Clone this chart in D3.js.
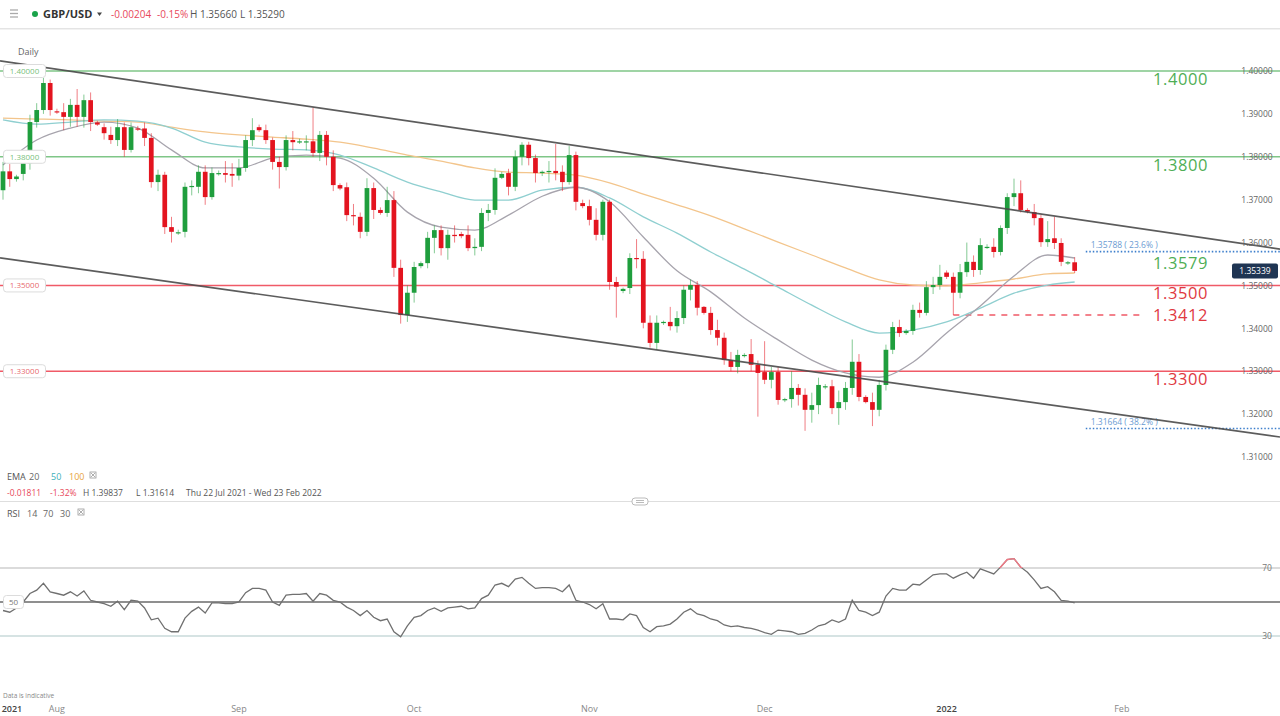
<!DOCTYPE html>
<html><head><meta charset="utf-8">
<script src="https://cdn.jsdelivr.net/npm/d3@7"></script>
<style>
html,body{margin:0;padding:0;background:#fff;}
svg{display:block;font-family:"Open Sans","Noto Sans",sans-serif;}
</style></head>
<body><svg id="c" width="1280" height="716"></svg>
<script>
// ---------- DATA ----------
const startDate = "2021-07-22";
const totalSlots = 190; // trading slots (Sun-Fri) shown on the time axis
const opens = [1.3722,1.3766,1.3748,1.3760,1.3785,1.3881,1.3909,1.3972,1.3906,1.3904,
1.3893,1.3921,1.3893,1.3932,1.3880,1.3869,1.3851,1.3839,1.3869,1.3816,
1.3866,1.3866,1.3844,1.3741,1.3758,1.3636,1.3624,1.3625,1.3730,1.3730,
1.3765,1.3706,1.3762,1.3762,1.3760,1.3756,1.3774,1.3839,1.3869,1.3862,
1.3839,1.3788,1.3776,1.3839,1.3836,1.3834,1.3836,1.3809,1.3851,1.3800,
1.3734,1.3729,1.3664,1.3660,1.3625,1.3727,1.3676,1.3669,1.3699,1.3541,
1.3431,1.3483,1.3545,1.3552,1.3611,1.3629,1.3587,1.3618,1.3620,1.3618,
1.3587,1.3590,1.3669,1.3676,1.3751,1.3762,1.3730,1.3800,1.3828,1.3797,
1.3762,1.3765,1.3767,1.3765,1.3741,1.3804,1.3692,1.3685,1.3653,1.3618,
1.3695,1.3508,1.3487,1.3494,1.3564,1.3562,1.3413,1.3366,1.3413,1.3415,
1.3405,1.3424,1.3490,1.3501,1.3450,1.3436,1.3396,1.3378,1.3326,1.3310,
1.3338,1.3340,1.3315,1.3298,1.3280,1.3298,1.3233,1.3235,1.3261,1.3245,
1.3210,1.3221,1.3265,1.3265,1.3214,1.3228,1.3261,1.3322,1.3240,1.3228,
1.3210,1.3268,1.3350,1.3403,1.3389,1.3394,1.3443,1.3436,1.3496,1.3501,
1.3530,1.3520,1.3483,1.3531,1.3555,1.3536,1.3590,1.3590,1.3578,1.3634,
1.3706,1.3715,1.3676,1.3671,1.3657,1.3601,1.3610,1.3599,1.3552,1.3554];
const highs = [1.3788,1.3783,1.3758,1.3800,1.3898,1.3925,1.3984,1.3980,1.3912,1.3925,
1.3935,1.3958,1.3945,1.3950,1.3884,1.3878,1.3870,1.3888,1.3880,1.3880,
1.3872,1.3880,1.3855,1.3770,1.3765,1.3660,1.3630,1.3740,1.3745,1.3780,
1.3780,1.3775,1.3768,1.3790,1.3785,1.3795,1.3850,1.3890,1.3875,1.3875,
1.3845,1.3800,1.3850,1.3860,1.3842,1.3850,1.3914,1.3860,1.3860,1.3815,
1.3738,1.3740,1.3690,1.3670,1.3750,1.3740,1.3682,1.3730,1.3720,1.3560,
1.3500,1.3555,1.3556,1.3625,1.3640,1.3640,1.3630,1.3640,1.3625,1.3640,
1.3610,1.3680,1.3690,1.3773,1.3765,1.3772,1.3815,1.3834,1.3835,1.3805,
1.3768,1.3790,1.3830,1.3780,1.3825,1.3812,1.3700,1.3700,1.3680,1.3700,
1.3700,1.3520,1.3495,1.3575,1.3608,1.3580,1.3430,1.3430,1.3418,1.3450,
1.3440,1.3500,1.3514,1.3510,1.3452,1.3450,1.3420,1.3390,1.3345,1.3350,
1.3342,1.3375,1.3325,1.3370,1.3310,1.3310,1.3238,1.3300,1.3270,1.3260,
1.3250,1.3285,1.3270,1.3280,1.3255,1.3275,1.3374,1.3340,1.3244,1.3250,
1.3280,1.3362,1.3415,1.3420,1.3398,1.3455,1.3460,1.3510,1.3520,1.3548,
1.3535,1.3530,1.3550,1.3600,1.3570,1.3610,1.3596,1.3610,1.3640,1.3715,
1.3749,1.3745,1.3680,1.3690,1.3665,1.3650,1.3660,1.3610,1.3557,1.3566];
const lows = [1.3700,1.3730,1.3742,1.3745,1.3770,1.3868,1.3900,1.3896,1.3900,1.3862,
1.3870,1.3870,1.3868,1.3860,1.3872,1.3840,1.3830,1.3825,1.3800,1.3810,
1.3860,1.3825,1.3728,1.3720,1.3620,1.3600,1.3618,1.3612,1.3710,1.3715,
1.3688,1.3700,1.3756,1.3740,1.3730,1.3745,1.3765,1.3825,1.3858,1.3830,
1.3770,1.3726,1.3768,1.3815,1.3830,1.3815,1.3800,1.3790,1.3780,1.3720,
1.3722,1.3650,1.3640,1.3610,1.3615,1.3655,1.3665,1.3660,1.3520,1.3411,
1.3415,1.3460,1.3540,1.3540,1.3575,1.3570,1.3560,1.3600,1.3610,1.3580,
1.3570,1.3580,1.3650,1.3665,1.3748,1.3710,1.3720,1.3780,1.3780,1.3740,
1.3755,1.3740,1.3745,1.3720,1.3735,1.3675,1.3680,1.3640,1.3605,1.3605,
1.3490,1.3425,1.3482,1.3480,1.3540,1.3400,1.3355,1.3350,1.3408,1.3395,
1.3390,1.3410,1.3465,1.3430,1.3432,1.3385,1.3360,1.3315,1.3300,1.3295,
1.3332,1.3300,1.3194,1.3270,1.3260,1.3222,1.3228,1.3215,1.3220,1.3161,
1.3180,1.3200,1.3258,1.3200,1.3175,1.3210,1.3245,1.3230,1.3225,1.3172,
1.3195,1.3255,1.3340,1.3380,1.3385,1.3385,1.3425,1.3430,1.3480,1.3490,
1.3515,1.3431,1.3470,1.3520,1.3520,1.3525,1.3585,1.3565,1.3570,1.3620,
1.3685,1.3670,1.3668,1.3640,1.3590,1.3590,1.3585,1.3545,1.3548,1.3529];
const closes = [1.3766,1.3748,1.3754,1.3785,1.3881,1.3909,1.3972,1.3909,1.3904,1.3893,
1.3921,1.3893,1.3932,1.3881,1.3875,1.3855,1.3839,1.3869,1.3816,1.3869,
1.3865,1.3844,1.3741,1.3758,1.3636,1.3625,1.3624,1.3730,1.3732,1.3765,
1.3706,1.3762,1.3762,1.3758,1.3756,1.3774,1.3839,1.3862,1.3862,1.3839,
1.3788,1.3776,1.3839,1.3834,1.3836,1.3836,1.3809,1.3851,1.3800,1.3734,
1.3726,1.3664,1.3662,1.3625,1.3727,1.3676,1.3669,1.3699,1.3541,1.3431,
1.3483,1.3543,1.3552,1.3611,1.3629,1.3587,1.3618,1.3615,1.3615,1.3587,
1.3590,1.3669,1.3676,1.3751,1.3760,1.3730,1.3800,1.3828,1.3797,1.3762,
1.3765,1.3767,1.3762,1.3741,1.3804,1.3695,1.3685,1.3653,1.3618,1.3695,
1.3508,1.3497,1.3492,1.3564,1.3562,1.3413,1.3366,1.3413,1.3415,1.3405,
1.3424,1.3490,1.3501,1.3448,1.3436,1.3396,1.3378,1.3326,1.3310,1.3338,
1.3338,1.3315,1.3296,1.3280,1.3298,1.3233,1.3235,1.3261,1.3245,1.3210,
1.3221,1.3268,1.3265,1.3214,1.3228,1.3261,1.3322,1.3240,1.3228,1.3210,
1.3268,1.3350,1.3403,1.3389,1.3394,1.3443,1.3436,1.3496,1.3501,1.3520,
1.3520,1.3483,1.3531,1.3555,1.3536,1.3594,1.3590,1.3578,1.3634,1.3706,
1.3715,1.3676,1.3672,1.3657,1.3601,1.3608,1.3599,1.3555,1.3554,1.3534];

// EMA samples (candle index -> value)
const emaSampleIdx = [0,5,10,15,20,25,30,35,40,45,50,55,60,65,70,75,80,85,90,95,100,105,110,115,120,125,130,135,140,145,150,155,159];
const ema20 = [1.3781,1.3839,1.3867,1.3881,1.3867,1.3816,1.3774,1.3774,1.3797,1.3804,1.3797,1.3750,1.3671,1.3636,1.3629,1.3664,1.3708,1.3729,1.3695,1.3613,1.3534,1.3485,1.3424,1.3373,1.3326,1.3296,1.3286,1.3321,1.3389,1.3452,1.3522,1.3571,1.3564];
const ema50 = [1.3886,1.3876,1.3881,1.3886,1.3883,1.3867,1.3834,1.3823,1.3818,1.3816,1.3804,1.3774,1.3741,1.3718,1.3699,1.3699,1.3722,1.3729,1.3704,1.3660,1.3622,1.3578,1.3538,1.3496,1.3454,1.3415,1.3389,1.3396,1.3415,1.3447,1.3482,1.3501,1.3508];
const ema100 = [1.3890,1.3888,1.3886,1.3883,1.3881,1.3869,1.3858,1.3851,1.3846,1.3841,1.3834,1.3820,1.3804,1.3790,1.3774,1.3764,1.3762,1.3757,1.3739,1.3713,1.3688,1.3662,1.3632,1.3601,1.3571,1.3541,1.3513,1.3501,1.3499,1.3506,1.3515,1.3527,1.3529];

// RSI(14) per candle
const rsi = [45,44,46.5,50,55,57,61,56,55,54,
56,53.5,56.5,51,50,49,47.5,50.5,45.5,51,
50.5,46.5,39.5,40.5,34.5,32.5,32.5,40.5,44.5,47,
43.5,49.5,49.5,49,49,50,55.5,58,58,57,
50,48,54,54.5,54.5,55,50.5,55,54,51,
50,47,45,42,45,41,39,40,32.5,29.5,
36,41,42,45,46.5,44.5,46.5,47,47.5,46,
46.5,52,54,60,61,59,63.5,64.5,61,58,
58.5,58.5,58,56,60,51,50,48.5,46,49,
40,40,39.5,43,42,35,32.5,35.5,36,37,
40,44,46,43,42,40,39,36.5,35.5,36,
35,34.5,33.5,32,31,33.5,33,32.5,31,31.5,
33.5,36,37,39.5,38,40,51,45,44,42,
44,53.5,58,57,57,60.5,60,63,66,66.5,
66.5,64,66,67.5,64,69.5,68,66.5,70.5,75,
75.5,70.5,67.5,63,58,59,56,51,50.5,49.5];

// Horizontal levels
const greenLevels = [1.40, 1.38];
const redLevels = [1.35, 1.33];
const levelLabels = [
  {text:"1.4000", price:1.40, color:"green"},
  {text:"1.3800", price:1.38, color:"green"},
  {text:"1.3579", price:1.35788, color:"green"},
  {text:"1.3500", price:1.35, color:"red"},
  {text:"1.3412", price:1.3431, color:"red", onLine:true},
  {text:"1.3300", price:1.33, color:"red"}
];
const fibLevels = [{price:1.35788, text:"1.35788 ( 23.6% )", from:"2022-01-26"},
                   {price:1.31664, text:"1.31664 ( 38.2% )", from:"2022-01-26"}];
const dashedLevel = {price:1.3431, from:"2022-01-03", to:"2022-02-04"};
const channelUpper = [["2021-07-22",1.40224],["2022-01-24",1.36550]];
const channelLower = [["2021-07-22",1.35631],["2022-01-24",1.32136]];
const priceTicks = [1.31,1.32,1.33,1.34,1.35,1.36,1.37,1.38,1.39,1.40];
const lastPrice = 1.35339;
const timeTicks = [["2021","2021-07-22"],["Aug","2021-08-01"],["Sep","2021-09-01"],["Oct","2021-10-01"],["Nov","2021-11-01"],["Dec","2021-12-01"],["2022","2022-01-02"],["Feb","2022-02-01"]];

// ---------- BUILD DATES (Sun-Fri slots) ----------
const dates = [];
{ let d = new Date(startDate+"T00:00:00Z");
  while (dates.length < totalSlots) {
    if (d.getUTCDay() !== 6) dates.push(d.toISOString().slice(0,10));
    d = new Date(d.getTime()+86400000);
  } }
const candles = opens.map((o,i)=>({date:dates[i], o, h:highs[i], l:lows[i], c:closes[i]}));

// ---------- SCALES ----------
const svg = d3.select("#c");
const step = 6.74, x0 = 3 - step/2;
const x = d3.scaleBand().domain(dates).range([x0, x0 + step*dates.length]).paddingInner(0.3).paddingOuter(0.15);
const cx = d => x(d) + x.bandwidth()/2;
const y = d3.scaleLinear().domain([1.31,1.40]).range([457,71]);
const yr = d3.scaleLinear().domain([30,70]).range([636,568]);

const GREEN_LINE="#7fc687", GREEN_TXT="#4fae55", RED_LINE="#f05a67", RED_TXT="#e0393f";
const UP="#1f9e3d", DOWN="#e3141f";

// ---------- HEADER ----------
const hdr = svg.append("g");
hdr.append("rect").attr("x",0).attr("y",0).attr("width",1280).attr("height",28).attr("fill","#fff");
hdr.append("line").attr("x1",0).attr("x2",1280).attr("y1",28.5).attr("y2",28.5).attr("stroke","#e4e4e4");
hdr.append("line").attr("x1",0).attr("x2",1280).attr("y1",29.5).attr("y2",29.5).attr("stroke","#f2f2f2");
[10,13.5,17].forEach(yy=>hdr.append("line").attr("x1",10).attr("x2",18).attr("y1",yy).attr("y2",yy).attr("stroke","#aaa").attr("stroke-width",1.3));
hdr.append("circle").attr("cx",35).attr("cy",14).attr("r",3).attr("fill","#1aa34a");
hdr.append("text").attr("x",43).attr("y",18).attr("font-size",11).attr("font-weight",700).attr("fill","#333").text("GBP/USD");
hdr.append("path").attr("d","M97,12.5 L102,12.5 L99.5,16 Z").attr("fill","#444");
hdr.append("text").attr("x",111).attr("y",18).attr("font-size",10).attr("fill","#e8475a").text("-0.00204");
hdr.append("text").attr("x",157).attr("y",18).attr("font-size",10).attr("fill","#e8475a").text("-0.15%");
hdr.append("text").attr("x",190).attr("y",18).attr("font-size",10).attr("fill","#555").text("H 1.35660");
hdr.append("text").attr("x",240).attr("y",18).attr("font-size",10).attr("fill","#555").text("L 1.35290");
svg.append("text").attr("x",18).attr("y",55).attr("font-size",9).attr("fill","#666").text("Daily");

// ---------- PRICE PANEL ----------
const main = svg.append("g");
greenLevels.forEach(p=>main.append("line").attr("x1",0).attr("x2",1280).attr("y1",y(p)).attr("y2",y(p)).attr("stroke",GREEN_LINE).attr("stroke-width",1.6));
redLevels.forEach(p=>main.append("line").attr("x1",0).attr("x2",1280).attr("y1",y(p)).attr("y2",y(p)).attr("stroke",RED_LINE).attr("stroke-width",1.6));
fibLevels.forEach(f=>{
  main.append("line").attr("x1",x(f.from)).attr("x2",1280).attr("y1",y(f.price)).attr("y2",y(f.price))
    .attr("stroke","#3d7fcc").attr("stroke-width",1.6).attr("stroke-dasharray","1.5,2");
  main.append("text").attr("x",x(f.from)+5).attr("y",y(f.price)-4).attr("font-size",8.5).attr("fill","#6b9bd2").text(f.text);
});
main.append("line").attr("x1",cx(dashedLevel.from)).attr("x2",cx(dashedLevel.to)).attr("y1",y(dashedLevel.price)).attr("y2",y(dashedLevel.price))
  .attr("stroke",RED_LINE).attr("stroke-width",1.6).attr("stroke-dasharray","6,6");

// EMAs
const emaLine = d3.line().x(d=>cx(dates[d[0]])).y(d=>y(d[1])).curve(d3.curveMonotoneX);
[[ema100,"#f3c58c"],[ema50,"#8fcfd0"],[ema20,"#a7a4ad"]].forEach(([arr,col])=>{
  main.append("path").attr("d",emaLine(emaSampleIdx.map((k,i)=>[k,arr[i]]))).attr("fill","none").attr("stroke",col).attr("stroke-width",1.3);
});

// candles
const cg = main.append("g");
cg.selectAll("line.w").data(candles).join("line")
  .attr("x1",d=>cx(d.date)).attr("x2",d=>cx(d.date)).attr("y1",d=>y(d.h)).attr("y2",d=>y(d.l))
  .attr("stroke",d=>d.c>=d.o?UP:DOWN).attr("stroke-opacity",0.55).attr("stroke-width",1);
cg.selectAll("rect.b").data(candles).join("rect")
  .attr("x",d=>x(d.date)).attr("width",x.bandwidth())
  .attr("y",d=>y(Math.max(d.o,d.c))).attr("height",d=>Math.max(1.2,Math.abs(y(d.o)-y(d.c))))
  .attr("fill",d=>d.c>=d.o?UP:DOWN);

// channel lines (extended to panel edges)
function channel(pts){
  const [a,b]=pts; const xa=cx(a[0]), ya=y(a[1]), xb=cx(b[0]), yb=y(b[1]);
  const k=(yb-ya)/(xb-xa);
  main.append("line").attr("x1",0).attr("y1",ya+(0-xa)*k).attr("x2",1280).attr("y2",ya+(1280-xa)*k)
    .attr("stroke","#4a4a4a").attr("stroke-width",1.7).attr("stroke-opacity",0.9);
}
channel(channelUpper); channel(channelLower);

// left level boxes
[[1.40,GREEN_TXT],[1.38,GREEN_TXT],[1.35,RED_TXT],[1.33,RED_TXT]].forEach(([p,col])=>{
  main.append("rect").attr("x",3.5).attr("y",y(p)-6.5).attr("width",42).attr("height",13).attr("rx",3)
    .attr("fill","#fff").attr("stroke","#dcdcdc");
  main.append("text").attr("x",24.5).attr("y",y(p)+3).attr("text-anchor","middle").attr("font-size",8).attr("fill",col).attr("fill-opacity",0.8).text(d3.format(".5f")(p));
});

// big level labels
levelLabels.forEach(L=>{
  const yy = L.onLine ? y(L.price)+6 : (L.price===1.35788 ? y(L.price)+17 : y(L.price)+14);
  main.append("text").attr("x",1153).attr("y",yy).attr("font-size",16.5).attr("letter-spacing",0.6)
    .attr("fill",L.color==="green"?GREEN_TXT:RED_TXT).text(L.text);
});

// right price axis
const ax = main.append("g").attr("transform","translate(1257,0)")
  .call(d3.axisRight(y).tickValues(priceTicks).tickFormat(d3.format(".5f")).tickSize(0).tickPadding(0));
ax.select(".domain").remove();
ax.selectAll("text").attr("text-anchor","middle").attr("font-size",8.5).attr("fill","#666").attr("font-family","'Open Sans',sans-serif");

// last price tag
main.append("rect").attr("x",1232).attr("y",y(lastPrice)-7.5).attr("width",46).attr("height",15).attr("rx",2).attr("fill","#1f3553");
main.append("text").attr("x",1255).attr("y",y(lastPrice)+3).attr("text-anchor","middle").attr("font-size",8.5).attr("fill","#fff").text(d3.format(".5f")(lastPrice));

// ---------- LEGENDS ----------
const lg = svg.append("g").attr("font-size",9);
lg.append("text").attr("x",7).attr("y",480).attr("fill","#555").text("EMA");
lg.append("text").attr("x",29).attr("y",480).attr("fill","#666").text("20");
lg.append("text").attr("x",51).attr("y",480).attr("fill","#3fb0b8").text("50");
lg.append("text").attr("x",69).attr("y",480).attr("fill","#e8a33c").text("100");
function closeBox(xx,yy){lg.append("rect").attr("x",xx).attr("y",yy-7).attr("width",6).attr("height",6).attr("fill","none").attr("stroke","#999").attr("stroke-width",0.8);
  lg.append("path").attr("d",`M${xx+1},${yy-6}L${xx+5},${yy-2}M${xx+5},${yy-6}L${xx+1},${yy-2}`).attr("stroke","#999").attr("stroke-width",0.8);}
closeBox(90,479);
lg.append("text").attr("x",7).attr("y",496).attr("fill","#e8475a").attr("font-size",8.5).text("-0.01811");
lg.append("text").attr("x",50).attr("y",496).attr("fill","#e8475a").attr("font-size",8.5).text("-1.32%");
lg.append("text").attr("x",83).attr("y",496).attr("fill","#555").attr("font-size",8.5).text("H 1.39837");
lg.append("text").attr("x",136).attr("y",496).attr("fill","#555").attr("font-size",8.5).text("L 1.31614");
lg.append("text").attr("x",186).attr("y",496).attr("fill","#555").attr("font-size",8.5).text("Thu 22 Jul 2021 - Wed 23 Feb 2022");
svg.append("line").attr("x1",0).attr("x2",1280).attr("y1",501.5).attr("y2",501.5).attr("stroke","#dedede");
svg.append("rect").attr("x",632).attr("y",498).attr("width",16).attr("height",7).attr("rx",3).attr("fill","#fff").attr("stroke","#bbb");
svg.append("line").attr("x1",636).attr("x2",644).attr("y1",500.5).attr("y2",500.5).attr("stroke","#bbb");
svg.append("line").attr("x1",636).attr("x2",644).attr("y1",502.5).attr("y2",502.5).attr("stroke","#bbb");
lg.append("text").attr("x",7).attr("y",517).attr("fill","#555").text("RSI");
lg.append("text").attr("x",27).attr("y",517).attr("fill","#666").text("14");
lg.append("text").attr("x",43).attr("y",517).attr("fill","#666").text("70");
lg.append("text").attr("x",60).attr("y",517).attr("fill","#666").text("30");
closeBox(78,516);

// ---------- RSI PANEL ----------
const rp = svg.append("g");
rp.append("line").attr("x1",0).attr("x2",1280).attr("y1",yr(70)).attr("y2",yr(70)).attr("stroke","#cfcfcf").attr("stroke-width",1.3);
rp.append("line").attr("x1",0).attr("x2",1280).attr("y1",yr(30)).attr("y2",yr(30)).attr("stroke","#c9dada").attr("stroke-width",1.3);
rp.append("line").attr("x1",0).attr("x2",1280).attr("y1",yr(50)).attr("y2",yr(50)).attr("stroke","#6a6a6a").attr("stroke-width",1.6);
const rsiLine = d3.line().x((d,i)=>cx(dates[i])).y(d=>yr(d));
rp.append("path").attr("d",rsiLine(rsi)).attr("fill","none").attr("stroke","#707070").attr("stroke-width",1.3);
svg.append("clipPath").attr("id","ob").append("rect").attr("x",0).attr("y",530).attr("width",1280).attr("height",yr(70)-530);
rp.append("path").attr("d",rsiLine(rsi)).attr("fill","none").attr("stroke","#f07a86").attr("stroke-width",1.4).attr("clip-path","url(#ob)");
rp.append("rect").attr("x",3.5).attr("y",yr(50)-6.5).attr("width",20).attr("height",13).attr("rx",3).attr("fill","#fff").attr("stroke","#dcdcdc");
rp.append("text").attr("x",13.5).attr("y",yr(50)+3).attr("text-anchor","middle").attr("font-size",8).attr("fill","#777").text("50");
const rax = rp.append("g").attr("transform","translate(1267,0)")
  .call(d3.axisRight(yr).tickValues([30,70]).tickSize(0).tickPadding(0));
rax.select(".domain").remove();
rax.selectAll("text").attr("text-anchor","middle").attr("font-size",8.5).attr("fill","#777").attr("font-family","'Open Sans',sans-serif");

// ---------- TIME AXIS ----------
svg.append("text").attr("x",3).attr("y",698).attr("font-size",6.5).attr("fill","#888").text("Data is indicative");
const tg = svg.append("g").attr("font-size",9);
timeTicks.forEach(([lab,dt],i)=>{
  const isYear = /^\d{4}$/.test(lab);
  tg.append("text").attr("x", i===0 ? x(dt)+1 : cx(dt)).attr("y",712)
    .attr("text-anchor", i===0 ? "start" : "middle")
    .attr("fill", isYear ? "#444" : "#888").attr("font-weight", isYear ? 600 : 400).text(lab);
});
</script></body></html>
